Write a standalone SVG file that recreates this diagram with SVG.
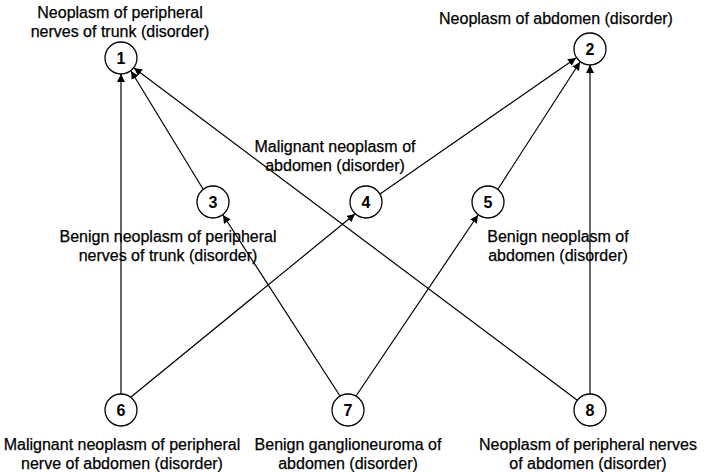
<svg xmlns="http://www.w3.org/2000/svg" width="708" height="472" viewBox="0 0 708 472">
<defs>
<marker id="ah" viewBox="0 0 10 10" refX="10" refY="5" markerWidth="8" markerHeight="8" markerUnits="userSpaceOnUse" orient="auto">
<path d="M0,0 L10,5 L0,10 z" fill="#000"/>
</marker>
</defs>
<style>
.n circle{fill:#fff;stroke:#000;stroke-width:1.3}
.num{font-family:"Liberation Sans",Arial,sans-serif;font-size:16px;font-weight:bold;text-anchor:middle}
.lbl{font-family:"Liberation Sans",Arial,sans-serif;font-size:16px;text-anchor:middle;fill:#000;stroke:#000;stroke-width:0.25}
.e line{stroke:#000;stroke-width:1.2;marker-end:url(#ah)}
</style>
<rect width="708" height="472" fill="#fff"/>
<g id="edges" class="e">
<line x1="121" y1="394" x2="121" y2="74"/>
<line x1="203" y1="189" x2="131" y2="71"/>
<line x1="577" y1="400" x2="134" y2="68"/>
<line x1="380" y1="194" x2="576" y2="58"/>
<line x1="498" y1="189" x2="580" y2="62"/>
<line x1="590" y1="394" x2="590" y2="65"/>
<line x1="131" y1="397" x2="355" y2="214"/>
<line x1="340" y1="396" x2="223" y2="215"/>
<line x1="356" y1="396" x2="478" y2="215"/>
</g>
<g id="n1" class="n"><circle cx="121" cy="58" r="16"/><text class="num" x="121" y="64">1</text>
<text class="lbl" x="120" y="18">Neoplasm of peripheral</text><text class="lbl" x="120" y="37">nerves of trunk (disorder)</text></g>
<g id="n2" class="n"><circle cx="590" cy="49" r="16"/><text class="num" x="590" y="55">2</text>
<text class="lbl" x="556" y="24">Neoplasm of abdomen (disorder)</text></g>
<g id="n3" class="n"><circle cx="213" cy="202" r="16"/><text class="num" x="213" y="208">3</text>
<text class="lbl" x="168" y="242">Benign neoplasm of peripheral</text><text class="lbl" x="168" y="261">nerves of trunk (disorder)</text></g>
<g id="n4" class="n"><circle cx="366" cy="202" r="16"/><text class="num" x="366" y="208">4</text>
<text class="lbl" x="335" y="152">Malignant neoplasm of</text><text class="lbl" x="335" y="171">abdomen (disorder)</text></g>
<g id="n5" class="n"><circle cx="488" cy="202" r="16"/><text class="num" x="488" y="208">5</text>
<text class="lbl" x="558" y="242">Benign neoplasm of</text><text class="lbl" x="558" y="261">abdomen (disorder)</text></g>
<g id="n6" class="n"><circle cx="121" cy="410" r="16"/><text class="num" x="121" y="416">6</text>
<text class="lbl" x="122" y="450">Malignant neoplasm of peripheral</text><text class="lbl" x="122" y="469">nerve of abdomen (disorder)</text></g>
<g id="n7" class="n"><circle cx="348" cy="410" r="16"/><text class="num" x="348" y="416">7</text>
<text class="lbl" x="348" y="450">Benign ganglioneuroma of</text><text class="lbl" x="348" y="469">abdomen (disorder)</text></g>
<g id="n8" class="n"><circle cx="590" cy="410" r="16"/><text class="num" x="590" y="416">8</text>
<text class="lbl" x="588" y="450">Neoplasm of peripheral nerves</text><text class="lbl" x="588" y="469">of abdomen (disorder)</text></g>
</svg>
